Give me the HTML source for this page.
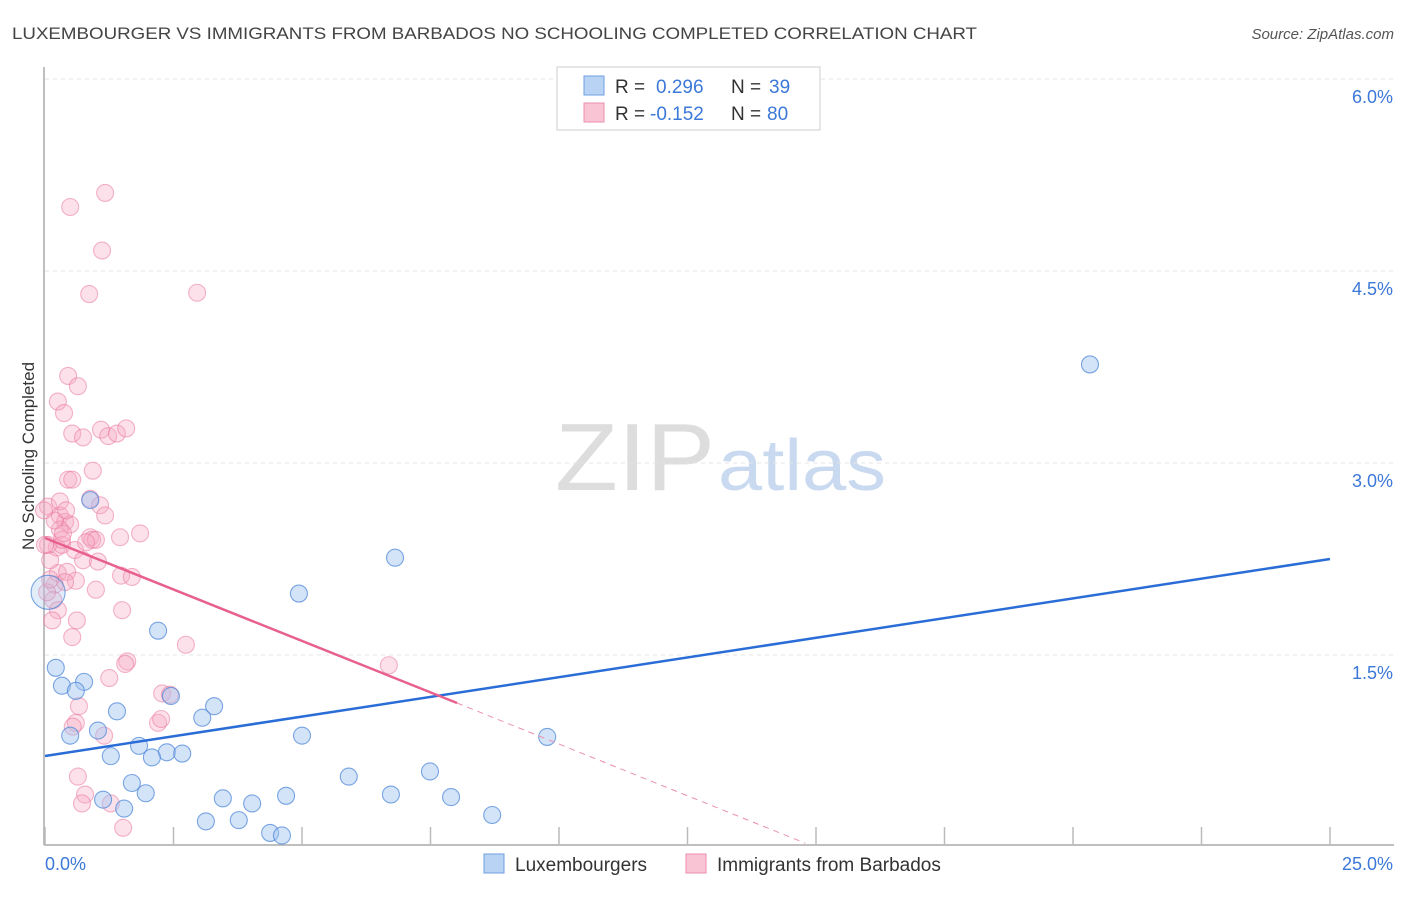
<!DOCTYPE html>
<html><head><meta charset="utf-8"><style>
body{margin:0;background:#fff;font-family:"Liberation Sans",sans-serif;}
svg text{font-family:"Liberation Sans",sans-serif;}
</style></head><body>
<svg id="chart" width="1406" height="892" xmlns="http://www.w3.org/2000/svg">
<text x="12" y="39" font-size="17" fill="#444" textLength="965" lengthAdjust="spacingAndGlyphs">LUXEMBOURGER VS IMMIGRANTS FROM BARBADOS NO SCHOOLING COMPLETED CORRELATION CHART</text>
<text x="1394" y="39" font-size="15" fill="#555" text-anchor="end" font-style="italic">Source: ZipAtlas.com</text>
<text transform="translate(34,456) rotate(-90)" font-size="17" fill="#333" text-anchor="middle">No Schooling Completed</text>
<g><text x="555" y="490" font-size="96" fill="#ddd" font-family="Liberation Serif" textLength="160" lengthAdjust="spacingAndGlyphs">ZIP</text><text x="718" y="490" font-size="72" fill="#c9daf0" textLength="168" lengthAdjust="spacingAndGlyphs">atlas</text></g>
<g id="grid"></g>
<g id="marks"></g>
<g>
<rect x="557" y="67" width="263" height="63" fill="#fff" stroke="#ccc"/>
<rect x="584" y="76" width="20" height="19" fill="#b9d3f5" stroke="#6e9fe0"/>
<rect x="584" y="103" width="20" height="19" fill="#f9c5d5" stroke="#eb8fac"/>
<text x="615" y="93" font-size="19" fill="#333">R =</text><text x="656" y="93" font-size="19" fill="#3b78d8">0.296</text>
<text x="731" y="93" font-size="19" fill="#333">N =</text><text x="769" y="93" font-size="19" fill="#3b78d8">39</text>
<text x="615" y="120" font-size="19" fill="#333">R =</text><text x="650" y="120" font-size="19" fill="#3b78d8">-0.152</text>
<text x="731" y="120" font-size="19" fill="#333">N =</text><text x="767" y="120" font-size="19" fill="#3b78d8">80</text>
</g>
<g>
<rect x="484" y="854" width="20" height="19" fill="#b9d3f5" stroke="#6e9fe0"/>
<text x="515" y="871" font-size="19" fill="#333">Luxembourgers</text>
<rect x="686" y="854" width="20" height="19" fill="#f9c5d5" stroke="#eb8fac"/>
<text x="717" y="871" font-size="19" fill="#333">Immigrants from Barbados</text>
</g>
</svg>
<script>
const xTicks=[0,2.5,5,7.5,10,12.5,15,17.5,20,22.5,25];
const yTicks=[1.5,3.0,4.5,6.0];
const yTickLabels=["1.5%","3.0%","4.5%","6.0%"];
const xEndLabels=["0.0%","25.0%"];
const luxX=[0.88,6.81,4.94,2.20,0.21,0.33,0.76,0.60,2.45,3.29,1.40,3.06,0.49,1.03,5.00,9.77,1.83,2.37,2.67,1.28,2.08,5.91,7.49,1.69,1.96,6.73,7.90,3.46,4.69,4.03,1.13,1.54,8.70,3.13,3.77,4.38,4.61,20.33,0.06];
const luxY=[2.71,2.26,1.98,1.69,1.40,1.26,1.29,1.22,1.18,1.10,1.06,1.01,0.87,0.91,0.87,0.86,0.79,0.74,0.73,0.71,0.70,0.55,0.59,0.50,0.42,0.41,0.39,0.38,0.40,0.34,0.37,0.30,0.25,0.20,0.21,0.11,0.09,3.77,1.99];
const barX=[0.45,0.64,0.25,0.37,0.53,0.74,1.09,1.23,1.40,1.58,0.45,0.53,0.93,0.88,1.07,1.17,0.06,0.29,0.39,0.49,0.29,0.23,0.33,0.88,0.92,1.85,0.06,0.58,0.74,1.03,0.25,0.43,0.60,1.48,1.69,0.19,0.39,0.99,0.16,0.25,1.50,0.62,0.53,2.74,6.69,1.60,1.56,1.25,2.28,2.43,0.66,0.60,0.54,2.20,2.26,1.15,0.64,0.78,0.72,1.28,1.52,0.49,1.17,1.11,0.86,2.96,0.04,0.10,0.14,0.19,0.29,0.33,0.41,0.10,-0.02,0.00,0.99,0.80,0.35,1.46];
const barY=[3.68,3.60,3.48,3.39,3.23,3.20,3.26,3.21,3.23,3.27,2.87,2.87,2.94,2.72,2.67,2.59,2.66,2.59,2.54,2.52,2.48,2.34,2.36,2.42,2.40,2.45,2.36,2.32,2.24,2.23,2.14,2.15,2.08,2.12,2.11,2.05,2.07,2.01,1.93,1.85,1.85,1.77,1.64,1.58,1.42,1.45,1.43,1.32,1.20,1.19,1.10,0.97,0.94,0.97,1.00,0.87,0.55,0.41,0.34,0.34,0.15,5.00,5.11,4.66,4.32,4.33,1.99,2.09,1.77,2.55,2.70,2.40,2.63,2.24,2.63,2.36,2.40,2.38,2.45,2.42];
const luxLine=[0.711,2.25];
const barLine=[2.414,1.125,0.03];
const barLineX=[0,8.016,14.79];
const X=v=>45+v*51.4, Y=v=>847-v*128;
const NS="http://www.w3.org/2000/svg";
function mk(tag,attrs,parent){const e=document.createElementNS(NS,tag);for(const k in attrs)e.setAttribute(k,attrs[k]);parent.appendChild(e);return e;}
const g=document.getElementById('grid'), m=document.getElementById('marks');
yTicks.forEach((t,i)=>{
 const l=mk('line',{x1:45,x2:1394,y1:Y(t),y2:Y(t),stroke:'#e4e4e4','stroke-dasharray':'4,4'},g);
 
 
 const tx=mk('text',{x:1393,y:Y(t)+24,'font-size':18,fill:'#3b78d8','text-anchor':'end'},g);tx.textContent=yTickLabels[i];
 
 
});
const ax=mk('line',{x1:44,x2:44,y1:67,y2:845,stroke:'#aaa','stroke-width':1.5},g);


const bx=mk('line',{x1:44,x2:1394,y1:845,y2:845,stroke:'#aaa','stroke-width':1.5},g);


xTicks.forEach(t=>{const l=mk('line',{x1:X(t),x2:X(t),y1:827,y2:845,stroke:'#bbb','stroke-width':1.5},g);
 
 });
[[0,'start',45],[1,'end',1393]].forEach(([i,a,x])=>{const t=mk('text',{x:x,y:870,'font-size':18,fill:'#3b78d8','text-anchor':a},g);t.textContent=xEndLabels[i];
 
 });
barX.forEach((v,i)=>{const c=mk('circle',{cx:X(v),cy:Y(barY[i]),r:8.5,fill:'rgba(246,170,195,0.35)',stroke:'rgba(234,120,158,0.55)','stroke-width':1.1},m);
 
 });
luxX.forEach((v,i)=>{const c=mk('circle',{cx:X(v),cy:Y(luxY[i]),r:i==luxX.length-1?17:8.5,fill:i==luxX.length-1?'rgba(160,195,240,0.3)':'rgba(160,195,240,0.45)',stroke:'rgba(70,130,215,0.7)','stroke-width':1.1},m);
 
 });
const bl=mk('line',{x1:X(0),y1:Y(luxLine[0]),x2:X(25),y2:Y(luxLine[1]),stroke:'#2a6dd6','stroke-width':2.5},m);


const pl=mk('line',{x1:X(barLineX[0]),y1:Y(barLine[0]),x2:X(barLineX[1]),y2:Y(barLine[1]),stroke:'#e8608e','stroke-width':2.5},m);


const pd=mk('line',{x1:X(barLineX[1]),y1:Y(barLine[1]),x2:X(barLineX[2]),y2:Y(barLine[2]),stroke:'#eb8fac','stroke-width':1,'stroke-dasharray':'6,5'},m);


</script>
</body></html>
